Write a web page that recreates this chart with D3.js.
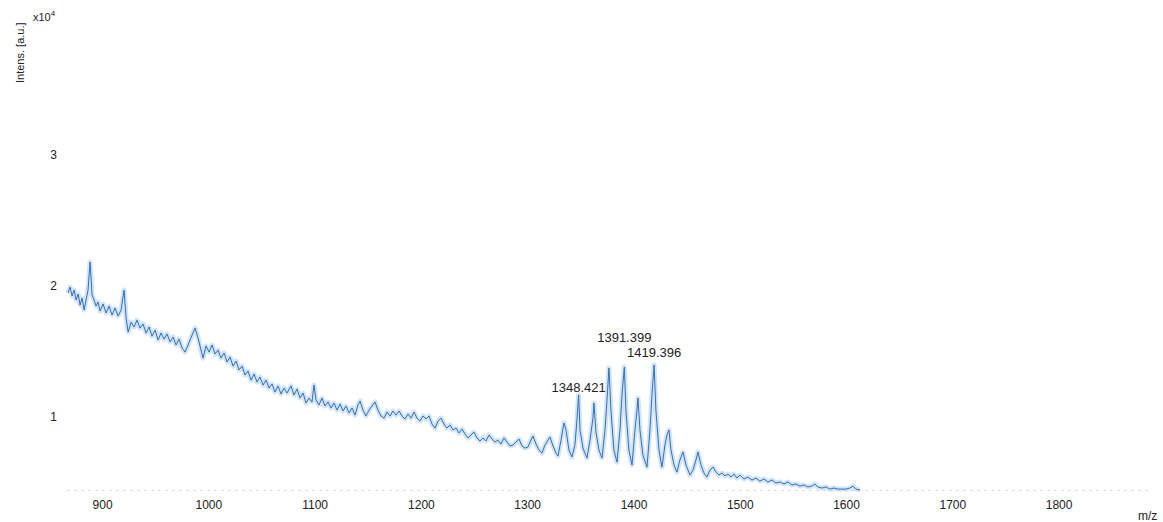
<!DOCTYPE html>
<html>
<head>
<meta charset="utf-8">
<script src="https://cdn.jsdelivr.net/npm/d3@7/dist/d3.min.js"></script>
<style>
	html, body { margin: 0; padding: 0; background: #fff; }
	text { font-family: "Liberation Sans", Arial, sans-serif; fill: #222; }
</style>
</head>
<body>
<script>
// Spectrum: [m/z, intensity in 1e4 a.u.]
var spectrum = [
	[868.0,1.947],[869.9,1.992],[871.8,1.924],[873.7,1.969],[875.6,1.893],[877.5,1.939],[879.3,1.855],
	[881.2,1.908],[883.1,1.817],[884.9,1.893],[886.8,1.969],[888.7,2.183],[890.6,1.931],[892.5,1.893],
	[894.4,1.847],[896.2,1.878],[898.1,1.809],[900.9,1.863],[903.8,1.794],[906.6,1.847],[909.4,1.779],
	[912.2,1.832],[915.1,1.771],[917.9,1.817],[920.7,1.969],[922.6,1.756],[924.5,1.649],[927.3,1.725],
	[930.1,1.687],[932.9,1.740],[935.7,1.679],[938.6,1.710],[941.4,1.641],[944.2,1.687],[947.0,1.618],
	[949.9,1.664],[952.7,1.588],[955.5,1.641],[958.3,1.595],[961.1,1.634],[964.0,1.573],[966.8,1.611],
	[969.6,1.550],[972.4,1.595],[975.3,1.527],[978.1,1.496],[980.9,1.550],[984.7,1.626],[987.5,1.679],
	[990.3,1.603],[993.1,1.511],[995.0,1.450],[997.8,1.542],[1000.7,1.496],[1003.5,1.550],[1006.3,1.481],
	[1009.1,1.511],[1011.9,1.450],[1014.8,1.489],[1017.6,1.420],[1020.4,1.458],[1023.2,1.389],[1026.1,1.427],
	[1028.9,1.359],[1031.7,1.389],[1034.5,1.321],[1037.3,1.351],[1040.2,1.282],[1043.0,1.328],[1045.8,1.267],
	[1048.6,1.305],[1051.5,1.244],[1054.3,1.282],[1057.1,1.221],[1059.9,1.252],[1062.7,1.191],[1065.6,1.237],
	[1068.4,1.176],[1071.2,1.221],[1074.0,1.183],[1077.8,1.237],[1080.6,1.168],[1083.4,1.214],[1086.3,1.145],
	[1089.1,1.183],[1091.9,1.107],[1094.7,1.145],[1097.5,1.115],[1099.4,1.244],[1101.3,1.130],[1104.1,1.092],
	[1106.9,1.145],[1109.8,1.084],[1112.6,1.115],[1115.4,1.069],[1118.2,1.107],[1121.1,1.053],[1123.9,1.099],
	[1126.7,1.046],[1129.5,1.084],[1132.4,1.031],[1135.2,1.069],[1138.0,1.015],[1140.8,1.092],[1142.7,1.122],
	[1145.5,1.053],[1148.3,1.008],[1151.2,1.053],[1154.0,1.084],[1156.8,1.115],[1159.6,1.053],[1162.5,1.008],
	[1165.3,0.992],[1168.1,1.038],[1170.9,1.008],[1173.7,1.046],[1176.6,1.015],[1179.4,1.046],[1182.2,1.008],
	[1185.0,0.985],[1187.9,1.023],[1190.7,0.992],[1193.5,1.038],[1196.3,0.992],[1199.1,0.969],[1202.0,1.008],
	[1204.8,0.985],[1207.6,1.008],[1210.4,0.947],[1213.3,0.916],[1216.1,0.969],[1218.9,0.992],[1221.7,0.947],
	[1224.5,0.916],[1227.4,0.939],[1230.2,0.901],[1233.0,0.916],[1235.8,0.878],[1238.7,0.908],[1241.5,0.870],
	[1244.3,0.840],[1247.1,0.863],[1249.9,0.885],[1252.8,0.840],[1255.6,0.817],[1258.4,0.840],[1261.2,0.817],
	[1264.1,0.863],[1266.9,0.832],[1269.7,0.809],[1272.5,0.824],[1275.3,0.794],[1278.2,0.840],[1281.0,0.809],
	[1283.8,0.779],[1286.6,0.786],[1289.5,0.809],[1292.3,0.832],[1295.1,0.779],[1297.9,0.763],[1300.7,0.771],
	[1303.6,0.824],[1305.4,0.855],[1308.3,0.794],[1311.1,0.748],[1313.9,0.725],[1316.7,0.786],[1319.6,0.824],
	[1321.4,0.847],[1324.3,0.779],[1327.1,0.725],[1329.0,0.702],[1331.8,0.824],[1334.6,0.954],[1336.5,0.901],
	[1339.3,0.748],[1342.1,0.695],[1344.9,0.786],[1346.8,0.977],[1348.4,1.168],[1349.7,0.901],[1352.5,0.763],
	[1356.2,0.687],[1359.1,0.824],[1361.9,0.992],[1362.8,1.107],[1364.7,0.885],[1367.5,0.748],[1370.4,0.687],
	[1373.2,0.901],[1375.1,1.130],[1376.9,1.374],[1378.8,1.053],[1381.6,0.748],[1384.5,0.656],[1387.3,0.901],
	[1389.2,1.168],[1391.4,1.382],[1392.9,1.053],[1395.7,0.748],[1398.6,0.634],[1401.4,0.901],[1403.3,1.053],
	[1404.2,1.145],[1406.1,0.901],[1408.9,0.710],[1412.7,0.618],[1415.5,0.901],[1417.4,1.168],[1419.4,1.397],
	[1421.1,1.053],[1424.0,0.748],[1426.8,0.618],[1429.6,0.786],[1431.5,0.863],[1433.4,0.901],[1435.3,0.748],
	[1438.1,0.634],[1440.9,0.580],[1443.7,0.672],[1446.6,0.733],[1449.4,0.634],[1453.2,0.557],[1456.0,0.595],
	[1458.8,0.672],[1460.7,0.733],[1463.5,0.634],[1466.3,0.573],[1469.1,0.542],[1472.0,0.595],[1474.8,0.618],
	[1477.6,0.580],[1480.4,0.557],[1483.2,0.573],[1486.1,0.550],[1488.9,0.565],[1491.7,0.542],[1494.5,0.565],
	[1497.3,0.534],[1500.2,0.557],[1503.9,0.527],[1507.7,0.542],[1511.5,0.519],[1515.2,0.534],[1519.0,0.511],
	[1522.8,0.527],[1526.5,0.504],[1530.3,0.519],[1534.0,0.496],[1537.8,0.504],[1541.6,0.489],[1545.3,0.504],
	[1549.1,0.481],[1552.8,0.489],[1556.6,0.473],[1560.4,0.481],[1564.1,0.466],[1567.9,0.473],[1570.7,0.489],
	[1573.5,0.466],[1577.3,0.458],[1581.1,0.466],[1584.8,0.450],[1588.6,0.458],[1592.3,0.450],[1596.1,0.450],
	[1599.9,0.450],[1603.6,0.458],[1606.5,0.473],[1609.3,0.450],[1613.1,0.443]
];

// Labelled peaks.
var peakMz = [1348.421, 1391.399, 1419.396];
var peakLabels = ['1348.421', '1391.399', '1419.396'];

var xTicks = [900, 1000, 1100, 1200, 1300, 1400, 1500, 1600, 1700, 1800];
var yTicks = [1, 2, 3];

var xDomain = [867, 1886];
var yDomain = [0.443, 4.107];

// How far each label sits above its peak (px), the software staggers them.
var labelLift = [3, 25, 8];

document.addEventListener('DOMContentLoaded', function() {
	var width = 1163, height = 522;

	var svg = d3.select('body')
		.append('svg')
		.attr('width', width)
		.attr('height', height);

	var x = d3.scaleLinear().domain(xDomain).range([67, 1150]);
	var y = d3.scaleLinear().domain(yDomain).range([490, 10]);

	// x axis: dotted baseline, no ticks.
	var xAxis = svg.append('g')
		.attr('transform', 'translate(0,' + y(yDomain[0]) + ')')
		.call(d3.axisBottom(x).tickValues(xTicks).tickSize(0).tickPadding(10).tickFormat(d3.format('d')));
	xAxis.select('.domain')
		.attr('stroke', '#cfcfcf')
		.attr('stroke-dasharray', '2,5');
	xAxis.selectAll('text')
		.attr('font-size', 12)
		.attr('fill', '#222')
		.style('font-family', '"Liberation Sans", Arial, sans-serif');

	// y axis: labels only.
	var yAxis = svg.append('g')
		.attr('transform', 'translate(59,0)')
		.call(d3.axisLeft(y).tickValues(yTicks).tickSize(0).tickPadding(2).tickFormat(d3.format('d')));
	yAxis.select('.domain').remove();
	yAxis.selectAll('text')
		.attr('font-size', 12)
		.attr('fill', '#222')
		.style('font-family', '"Liberation Sans", Arial, sans-serif');

	var line = d3.line()
		.x(function(d) { return x(d[0]); })
		.y(function(d) { return y(d[1]); });

	// Soft noise band then the darker trace on top.
	svg.append('path')
		.datum(spectrum)
		.attr('d', line)
		.attr('fill', 'none')
		.attr('stroke', '#b3d2f3')
		.attr('stroke-width', 5)
		.attr('stroke-linejoin', 'round')
		.attr('opacity', 0.6);
	svg.append('path')
		.datum(spectrum)
		.attr('d', line)
		.attr('fill', 'none')
		.attr('stroke', '#3470b6')
		.attr('stroke-width', 1)
		.attr('stroke-linejoin', 'round');

	// Peak labels sit over the highest point near each peak.
	peakMz.forEach(function(mz, i) {
		var top = d3.max(spectrum.filter(function(d) { return Math.abs(d[0] - mz) < 1.5; }), function(d) { return d[1]; });
		svg.append('text')
			.attr('x', x(mz))
			.attr('y', y(top) - labelLift[i])
			.attr('text-anchor', 'middle')
			.attr('font-size', 13)
			.text(peakLabels[i]);
	});

	// Axis titles.
	svg.append('text')
		.attr('transform', 'translate(24,83) rotate(-90)')
		.attr('font-size', 11)
		.text('Intens. [a.u.]');
	var mult = svg.append('text')
		.attr('x', 33)
		.attr('y', 21)
		.attr('font-size', 11);
	mult.append('tspan').text('x10');
	mult.append('tspan').attr('dy', -5).attr('font-size', 8).text('4');

	svg.append('text')
		.attr('x', 1138)
		.attr('y', 520)
		.attr('font-size', 12)
		.text('m/z');
});
</script>
</body>
</html>
